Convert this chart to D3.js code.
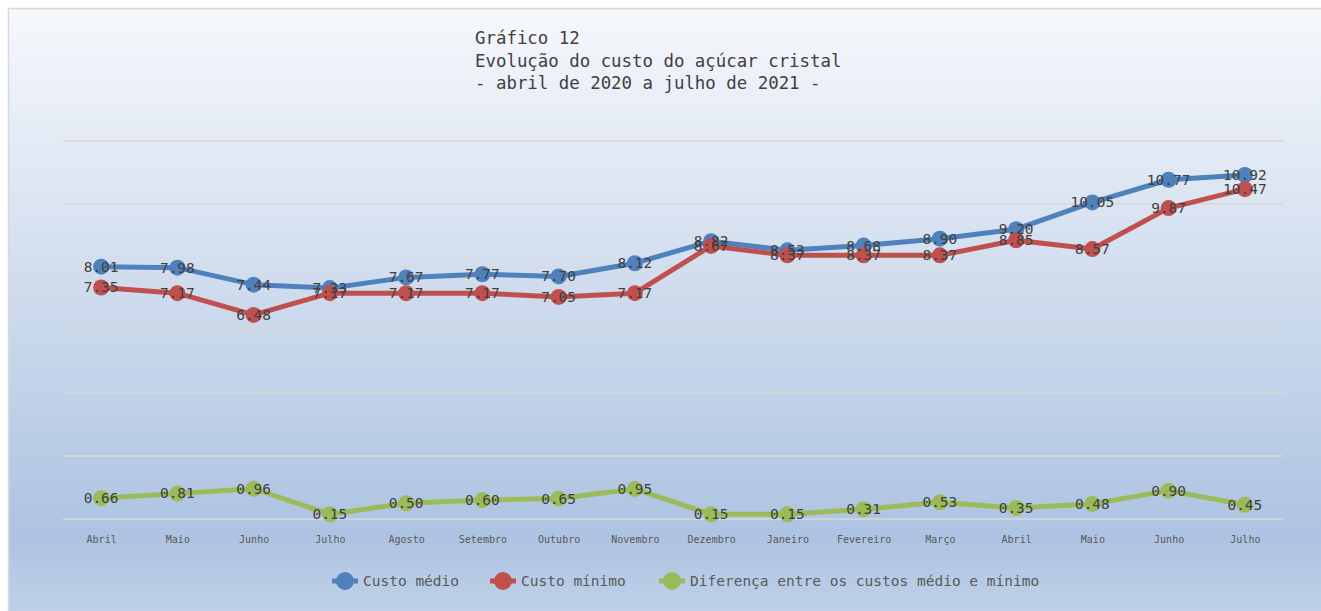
<!DOCTYPE html>
<html>
<head>
<meta charset="utf-8">
<script src="https://cdnjs.cloudflare.com/ajax/libs/d3/7.8.5/d3.min.js"></script>
<style>
  body { margin: 0; background: #fff; }
  svg { display: block; }
</style>
</head>
<body>
<div id="chart"></div>
<script>
// categorias e séries
const months = ['Abril','Maio','Junho','Julho','Agosto','Setembro','Outubro','Novembro',
                'Dezembro','Janeiro','Fevereiro','Março','Abril','Maio','Junho','Julho'];
const custoMedio = [8.01, 7.98, 7.44, 7.33, 7.67, 7.77, 7.70, 8.12, 8.82, 8.53, 8.68, 8.90, 9.20, 10.05, 10.77, 10.92];
const custoMinimo = [7.35, 7.17, 6.48, 7.17, 7.17, 7.17, 7.05, 7.17, 8.67, 8.37, 8.37, 8.37, 8.85, 8.57, 9.87, 10.47];
const diferenca = [0.66, 0.81, 0.96, 0.15, 0.50, 0.60, 0.65, 0.95, 0.15, 0.15, 0.31, 0.53, 0.35, 0.48, 0.90, 0.45];
const yTicks = [0, 2, 4, 6, 8, 10, 12];
const titleLines = ['Gráfico 12', 'Evolução do custo do açúcar cristal', '- abril de 2020 a julho de 2021 -'];

const series = [
  {name: 'Custo médio', values: custoMedio, color: '#4f81bd'},
  {name: 'Custo mínimo', values: custoMinimo, color: '#c0504d'},
  {name: 'Diferença entre os custos médio e mínimo', values: diferenca, color: '#9bbb59'}
];

const W = 1321, H = 611;
const mono = '"DejaVu Sans Mono", "Liberation Mono", monospace';

const svg = d3.select('#chart').append('svg')
  .attr('width', W).attr('height', H);

const defs = svg.append('defs');
const grad = defs.append('linearGradient').attr('id', 'bg')
  .attr('x1', 0).attr('y1', 0).attr('x2', 0).attr('y2', 1);
grad.append('stop').attr('offset', '0%').attr('stop-color', '#f6f8fc');
grad.append('stop').attr('offset', '85%').attr('stop-color', '#adc3e1');
grad.append('stop').attr('offset', '100%').attr('stop-color', '#c2d4ea');

// moldura
svg.append('rect')
  .attr('x', 8.5).attr('y', 8.5)
  .attr('width', W).attr('height', H + 10)
  .attr('fill', 'url(#bg)')
  .attr('stroke', '#d9d9d9').attr('stroke-width', 1.5);

// título
svg.append('g').selectAll('text')
  .data(titleLines)
  .enter().append('text')
  .attr('x', 475)
  .attr('y', (d, i) => 44 + i * 22.5)
  .attr('font-family', mono)
  .attr('font-size', '17.4px')
  .attr('fill', '#404040')
  .text(d => d);

// escalas
const x = d3.scalePoint().domain(d3.range(months.length)).range([63, 1283]).padding(0.5);
const y = d3.scaleLinear().domain([0, 12]).range([519, 141]);

// grade
svg.append('g').selectAll('line')
  .data(yTicks)
  .enter().append('line')
  .attr('x1', 63).attr('x2', 1283)
  .attr('y1', d => y(d)).attr('y2', d => y(d))
  .attr('stroke', '#d9d9d9').attr('stroke-width', 1.5);

// eixo x
const xAxis = svg.append('g')
  .attr('transform', `translate(0,${y(0)})`)
  .call(d3.axisBottom(x).tickSize(0).tickPadding(17).tickFormat(i => months[i]));
xAxis.select('.domain').remove();
xAxis.selectAll('text')
  .attr('font-family', mono)
  .attr('font-size', '10px')
  .attr('fill', '#595959');

// linhas
const line = d3.line().x((d, i) => x(i)).y(d => y(d));
series.forEach(s => {
  const g = svg.append('g');
  g.append('path')
    .datum(s.values)
    .attr('d', line)
    .attr('fill', 'none')
    .attr('stroke', s.color)
    .attr('stroke-width', 5)
    .attr('stroke-linejoin', 'round');
  g.selectAll('circle')
    .data(s.values)
    .enter().append('circle')
    .attr('cx', (d, i) => x(i))
    .attr('cy', d => y(d))
    .attr('r', 8)
    .attr('fill', s.color);
});

// rótulos de dados
series.forEach(s => {
  svg.append('g').selectAll('text')
    .data(s.values)
    .enter().append('text')
    .attr('x', (d, i) => x(i))
    .attr('y', d => y(d) + 5)
    .attr('text-anchor', 'middle')
    .attr('font-family', mono)
    .attr('font-size', '14.5px')
    .attr('fill', '#404040')
    .text(d => d.toFixed(2));
});

// legenda
const legendX = [345, 503, 672];
const legend = svg.append('g');
series.forEach((s, i) => {
  const g = legend.append('g').attr('transform', `translate(${legendX[i]},581)`);
  g.append('line').attr('x1', -13).attr('x2', 13)
    .attr('stroke', s.color).attr('stroke-width', 5);
  g.append('circle').attr('r', 9).attr('fill', s.color);
  g.append('text')
    .attr('x', 18).attr('y', 5)
    .attr('font-family', mono)
    .attr('font-size', '14.5px')
    .attr('fill', '#595959')
    .text(s.name);
});
</script>
</body>
</html>
